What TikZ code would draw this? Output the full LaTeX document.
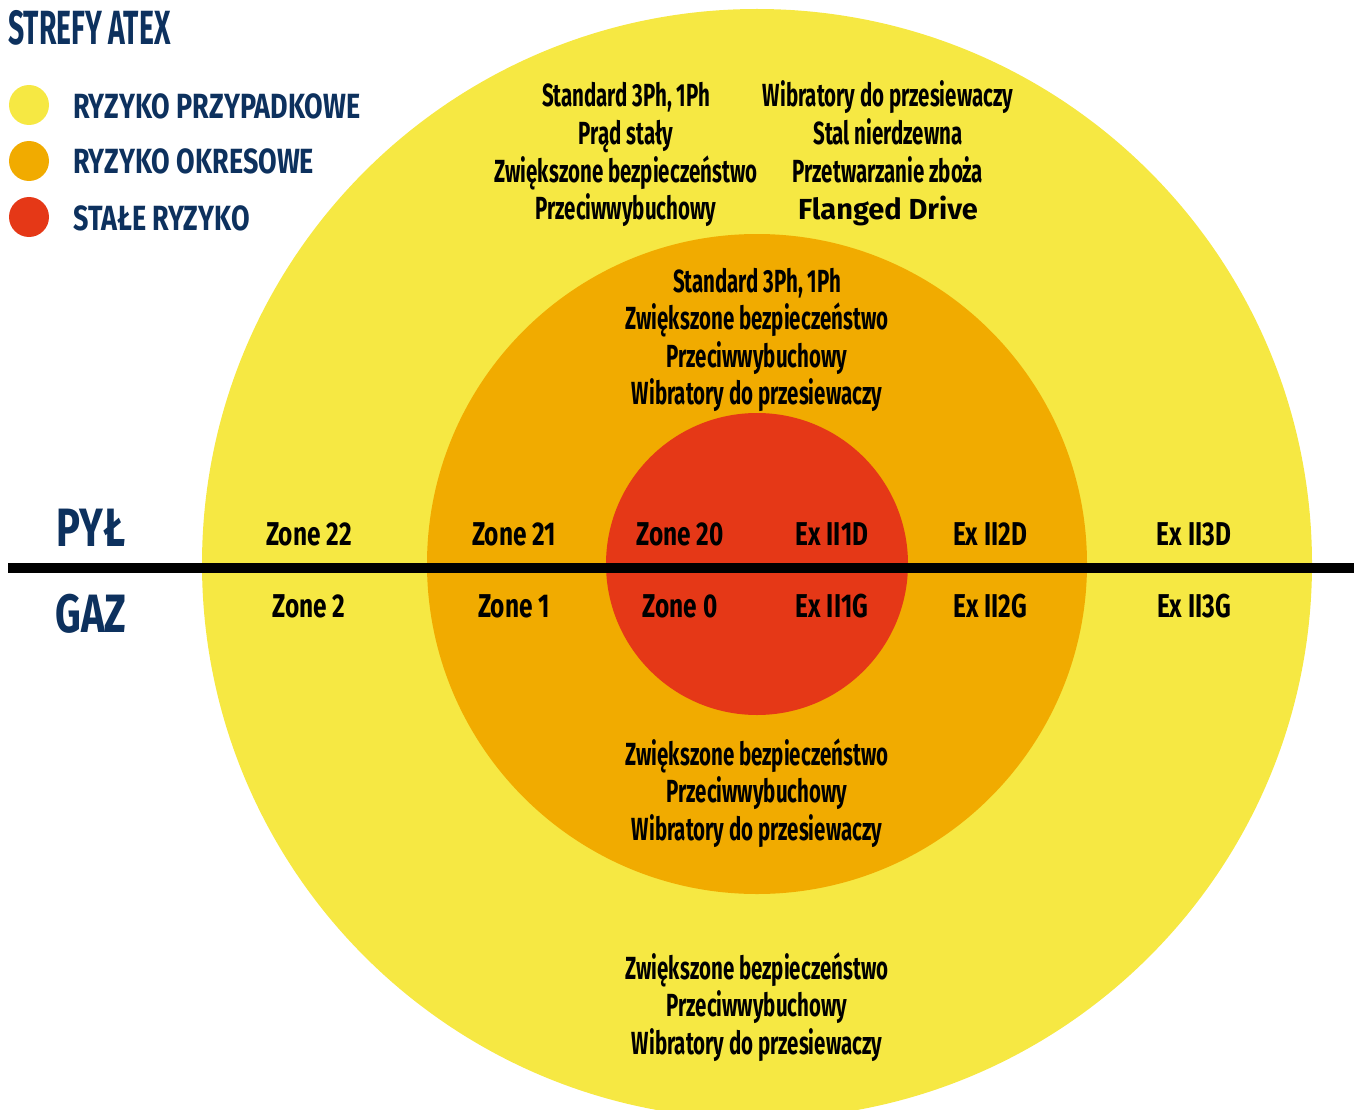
\documentclass[tikz,border=0pt]{standalone}
\usepackage{fontspec}
\setmainfont{Fira Sans}
\newfontfamily\condfont[FakeStretch=0.64]{Fira Sans}
\newfontfamily\zonefont[FakeStretch=0.74]{Fira Sans}
\newfontfamily\legfont[FakeStretch=0.77]{Fira Sans}
\newfontfamily\titlefont[FakeStretch=0.59]{Fira Sans}

\definecolor{atexyellow}{RGB}{246,232,67}
\definecolor{atexorange}{RGB}{241,171,0}
\definecolor{atexred}{RGB}{229,56,23}
\definecolor{atexnavy}{RGB}{13,49,94}

\tikzset{infotxt/.style = {align=center,
                           anchor=base,
                           inner sep=0pt,
                           font=\condfont\bfseries\fontsize{32}{37.5}\selectfont},
         zonelbl/.style = {anchor=base,
                           inner sep=0pt,
                           font=\zonefont\bfseries\fontsize{33}{36}\selectfont},
         sidelbl/.style = {anchor=base,
                           inner sep=0pt,
                           text=atexnavy,
                           font=\zonefont\bfseries\fontsize{54}{60}\selectfont},
         legdot/.style  = {shape=circle,
                           minimum size=40pt,
                           inner sep=0pt},
         legtxt/.style  = {anchor=base west,
                           inner sep=0pt,
                           text=atexnavy,
                           font=\legfont\bfseries\fontsize{35}{40}\selectfont}}

\begin{document}
\begin{tikzpicture}[x=1pt,y=-1pt]
	\useasboundingbox (0,0) rectangle (1359,1110);
	\clip (0,0) rectangle (1359,1110);
	% zones
	\coordinate (c) at (757,564);
	\fill[atexyellow] (c) circle (555);
	\fill[atexorange] (c) circle (330);
	\fill[atexred] (c) circle (151);
	% divider
	\coordinate (l) at (8,568);
	\coordinate (r) at (1354,568);
	\draw[line width=10pt] (l) -- (r);
	% title and legend
	\node[legtxt, font=\titlefont\bfseries\fontsize{48}{52}\selectfont] (title) at (8,45) {STREFY ATEX};
	\node[legdot, fill=atexyellow] (d1) at (29,105) {};
	\node[legdot, fill=atexorange] (d2) at (29,161) {};
	\node[legdot, fill=atexred] (d3) at (29,217) {};
	\node[legtxt] (t1) at (73,119) {RYZYKO PRZYPADKOWE};
	\node[legtxt] (t2) at (73,174) {RYZYKO OKRESOWE};
	\node[legtxt] (t3) at (73,230) {STAŁE RYZYKO};
	% dust / gas
	\node[sidelbl] (pyl) at (91,546) {PYŁ};
	\node[sidelbl] (gaz) at (91,632) {GAZ};
	\node[zonelbl] (z22) at (309,545) {Zone 22};
	\node[zonelbl] (z21) at (514,545) {Zone 21};
	\node[zonelbl] (z20) at (680,545) {Zone 20};
	\node[zonelbl] (e1d) at (832,545) {Ex II1D};
	\node[zonelbl] (e2d) at (990,545) {Ex II2D};
	\node[zonelbl] (e3d) at (1194,545) {Ex II3D};
	\node[zonelbl] (z2) at (309,617) {Zone 2};
	\node[zonelbl] (z1) at (514,617) {Zone 1};
	\node[zonelbl] (z0) at (680,617) {Zone 0};
	\node[zonelbl] (e1g) at (832,617) {Ex II1G};
	\node[zonelbl] (e2g) at (990,617) {Ex II2G};
	\node[zonelbl] (e3g) at (1194,617) {Ex II3G};
	% equipment (base = last line)
	\node[infotxt] (yl) at (626,219.5) {Standard 3Ph, 1Ph\\Prąd stały\\Zwiększone bezpieczeństwo\\Przeciwwybuchowy};
	\node[infotxt] (yr) at (888,219.5) {Wibratory do przesiewaczy\\Stal nierdzewna\\Przetwarzanie zboża\\{\fontspec{Fira Sans}\bfseries\fontsize{29}{32}\selectfont Flanged Drive}};
	\node[infotxt] (ot) at (757,404.5) {Standard 3Ph, 1Ph\\Zwiększone bezpieczeństwo\\Przeciwwybuchowy\\Wibratory do przesiewaczy};
	\node[infotxt] (ob) at (757,840) {Zwiększone bezpieczeństwo\\Przeciwwybuchowy\\Wibratory do przesiewaczy};
	\node[infotxt] (yb) at (757,1054) {Zwiększone bezpieczeństwo\\Przeciwwybuchowy\\Wibratory do przesiewaczy};
\end{tikzpicture}
\end{document}
